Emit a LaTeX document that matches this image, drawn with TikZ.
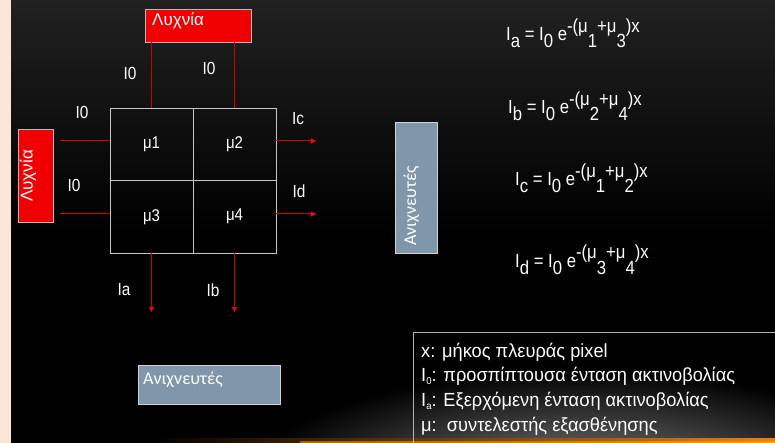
\documentclass[tikz,border=0pt]{standalone}
\usepackage{fontspec}
\setmainfont{Liberation Sans}
\newfontfamily\calib{Carlito}
\usetikzlibrary{arrows.meta}
\definecolor{peach}{HTML}{FBE5D6}
\definecolor{rayred}{HTML}{D00000}
\definecolor{detblue}{HTML}{7F96AB}
\definecolor{lampred}{HTML}{F00000}
\newcommand\lo[1]{\raisebox{-7pt}{#1}}
\newcommand\hi[1]{\raisebox{8.5pt}{#1}}
\newcommand\narrow[1]{\scalebox{0.88}[1]{#1}}
\newcommand\legnarrow[1]{\scalebox{0.96}[1]{#1}}
\newcommand\smallsub[1]{\raisebox{-3pt}{\fontsize{10}{10}\selectfont #1}}
\tikzset{
  lampbox/.style={draw=gray!55, fill=lampred, line width=0.8pt, inner sep=0},
  detbox/.style={draw=gray!35, fill=detblue, line width=0.8pt, inner sep=0},
  cell/.style={draw=gray!45!white, line width=0.9pt, minimum width=83pt, minimum height=72.5pt, inner sep=0, text=white, font=\fontsize{17}{20}\selectfont},
  lbl/.style={text=white, font=\fontsize{17.5}{20}\selectfont, inner sep=0},
  lamptxt/.style={text=white, font=\fontsize{17}{20}\selectfont, inner sep=0},
  dettxt/.style={text=white, font=\calib\fontsize{18}{20}\selectfont, inner sep=0},
  ray/.style={draw=rayred, line width=1pt},
  rayarr/.style={ray, -{Triangle[length=5pt,width=5pt,color=red]}},
  eqtxt/.style={text=white, font=\fontsize{19}{22}\selectfont, inner sep=0, anchor=base west},
  legtxt/.style={text=white, font=\fontsize{19}{22}\selectfont, inner sep=0, anchor=base west},
}
\begin{document}
\begin{tikzpicture}[x=1pt,y=-1pt]
\useasboundingbox (0,0) rectangle (775,443);
% background
\fill[peach] (0,0) rectangle (11,443);
\shade[top color=black!87, bottom color=black] (11,0) rectangle (775,230);
\fill[black] (11,230) rectangle (775,443);
\begin{scope}
  \clip (11,300) rectangle (775,443);
  \shade[inner color=black!50, outer color=black] (580,480) ellipse [x radius=330, y radius=110];
\end{scope}
\shade[left color=black, right color=orange!70!brown] (150,438) rectangle (775,443);
\fill[orange!60!yellow, opacity=0.5] (300,440.5) rectangle (775,443);

% lamps
\node[lampbox, minimum width=106pt, minimum height=33pt] (lampT) at (198,25.5) {};
\node[lamptxt, anchor=base west] (lampTtxt) at (152,26) {Λυχνία};
\node[lampbox, minimum width=35pt, minimum height=93pt] (lampL) at (35.5,175.5) {};
\node[lamptxt, rotate=90] (lampLtxt) at (28,176) {Λυχνία};

% grid
\node[cell] (c1) at (151.5,144.25) {\narrow{μ1}};
\node[cell] (c2) at (234.5,144.25) {\narrow{μ2}};
\node[cell] (c3) at (151.5,216.75) {\narrow{μ3}};
\node[cell] (c4) at (234.5,216.75) {\narrow{μ4}};

% incoming rays
\draw[ray] (c1.north |- lampT.south) -- (c1.north);
\draw[ray] (c2.north |- lampT.south) -- (c2.north);
\coordinate (l1) at (60,141);
\coordinate (l2) at (60,214);
\draw[ray] (l1) -- (l1 -| c1.west);
\draw[ray] (l2) -- (l2 -| c3.west);

% outgoing rays
\coordinate (r1) at (316,141);
\coordinate (r2) at (316,214);
\draw[rayarr] (r1 -| c2.east) -- (r1);
\draw[rayarr] (r2 -| c4.east) -- (r2);
\coordinate (b1) at (152,312);
\draw[rayarr] (c3.south) -- (c3.south |- b1);
\draw[rayarr] (c4.south) -- (c4.south |- b1);

% labels
\node[lbl] (i0a) at (130,73) {\narrow{I0}};
\node[lbl] (i0b) at (209,68) {\narrow{I0}};
\node[lbl] (i0c) at (82,112) {\narrow{I0}};
\node[lbl] (i0d) at (74,185) {\narrow{I0}};
\node[lbl] (ic) at (298,119) {\narrow{Ic}};
\node[lbl] (id) at (299,191) {\narrow{Id}};
\node[lbl] (ia) at (124,290) {\narrow{Ia}};
\node[lbl] (ib) at (213,290) {\narrow{Ib}};

% detectors
\node[detbox, minimum width=142pt, minimum height=39pt] (detB) at (209,384.5) {};
\node[dettxt, anchor=base west] (detBtxt) at (143,384) {Ανιχνευτές};
\node[detbox, minimum width=42pt, minimum height=131pt] (detR) at (416,187.5) {};
\node[dettxt, rotate=90, anchor=base west] (detRtxt) at (416,246) {Ανιχνευτές};

% equations
\node[eqtxt] (eqa) at (506,41) {\narrow{I\lo{a} = I\lo{0} e\hi{-(μ}\lo{1}\hi{+μ}\lo{3}\hi{)x}}};
\node[eqtxt] (eqb) at (508,114) {\narrow{I\lo{b} = I\lo{0} e\hi{-(μ}\lo{2}\hi{+μ}\lo{4}\hi{)x}}};
\node[eqtxt] (eqc) at (515,186) {\narrow{I\lo{c} = I\lo{0} e\hi{-(μ}\lo{1}\hi{+μ}\lo{2}\hi{)x}}};
\node[eqtxt] (eqd) at (515,267) {\narrow{I\lo{d} = I\lo{0} e\hi{-(μ}\lo{3}\hi{+μ}\lo{4}\hi{)x}}};

% legend
\draw[gray!60, line width=0.8pt] (413,450) -- (413,332) -- (780,332);
\node[legtxt] (leg1) at (421,357) {\legnarrow{x: μήκος πλευράς pixel}};
\node[legtxt] (leg2) at (421,381) {\legnarrow{I\smallsub{0}: προσπίπτουσα ένταση ακτινοβολίας}};
\node[legtxt] (leg3) at (421,406) {\legnarrow{I\smallsub{a}: Εξερχόμενη ένταση ακτινοβολίας}};
\node[legtxt] (leg4) at (421,431) {\legnarrow{μ:\ \ συντελεστής εξασθένησης}};
\end{tikzpicture}
\end{document}
